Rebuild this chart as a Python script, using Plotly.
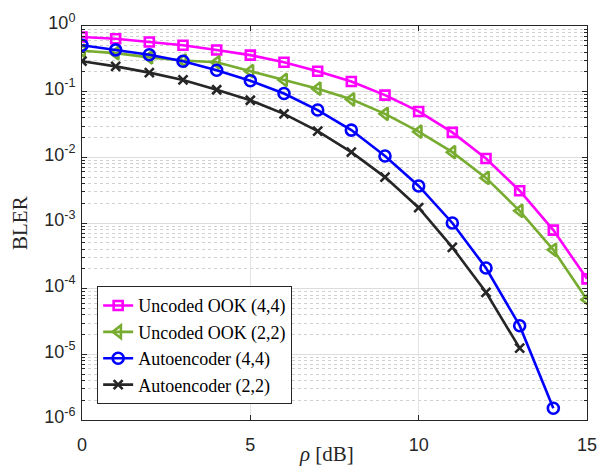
import plotly.graph_objects as go

# SNR axis (dB)
rho_db = list(range(0, 16))

# Block error rates per scheme
bler_ook_44 = [0.68, 0.64, 0.57, 0.51, 0.43, 0.36, 0.28, 0.205, 0.143, 0.0885,
               0.050, 0.024, 0.0096, 0.0031, 7.8e-4, 1.41e-4]
bler_ook_22 = [0.42, 0.386, 0.333, 0.298, 0.28, 0.205, 0.151, 0.111, 0.0764, 0.0459,
               0.0246, 0.012, 0.00486, 0.00153, 3.9e-4, 6.8e-5]
bler_ae_44 = [0.51, 0.433, 0.365, 0.291, 0.212, 0.147, 0.0937, 0.0525, 0.026, 0.0105,
              0.00366, 0.0010, 2.06e-4, 2.73e-5, 1.51e-6]
bler_ae_22 = [0.291, 0.243, 0.195, 0.151, 0.107, 0.074, 0.0459, 0.0251, 0.012, 0.0050,
              0.00171, 4.25e-4, 8.8e-5, 1.24e-5]

series_names = ["Uncoded OOK (4,4)", "Uncoded OOK (2,2)",
                "Autoencoder (4,4)", "Autoencoder (2,2)"]

y_tickvals = [1e-6, 1e-5, 1e-4, 1e-3, 1e-2, 1e-1, 1]
y_ticktext = ["10<sup>-6</sup>", "10<sup>-5</sup>", "10<sup>-4</sup>", "10<sup>-3</sup>",
              "10<sup>-2</sup>", "10<sup>-1</sup>", "10<sup>0</sup>"]
x_tickvals = [0, 5, 10, 15]

styles = [
    dict(color="#FF00FF", symbol="square-open", size=9),
    dict(color="#77AC30", symbol="triangle-left-open", size=11),
    dict(color="#0000FF", symbol="circle-open", size=11),
    dict(color="#262626", symbol="x-thin-open", size=9),
]
data = [bler_ook_44, bler_ook_22, bler_ae_44, bler_ae_22]

fig = go.Figure()
for name, ys, st in zip(series_names, data, styles):
    fig.add_trace(go.Scatter(
        x=rho_db[:len(ys)], y=ys, name=name, mode="lines+markers",
        line=dict(color=st["color"], width=2.6),
        marker=dict(symbol=st["symbol"], size=st["size"], color=st["color"],
                    line=dict(color=st["color"], width=2.6)),
    ))

tick_font = dict(family="Liberation Sans, Arial, sans-serif", size=18, color="#262626")
serif = "Liberation Serif, DejaVu Serif, serif"

fig.update_layout(
    width=608, height=466,
    margin=dict(l=82, r=11, t=12, b=46),
    paper_bgcolor="white", plot_bgcolor="white",
    showlegend=True,
    legend=dict(
        x=0.03, y=0.04, xanchor="left", yanchor="bottom",
        bgcolor="white", bordercolor="#262626", borderwidth=1,
        font=dict(family=serif, size=18, color="#000000"),
        tracegroupgap=0, itemwidth=30,
    ),
    xaxis=dict(
        range=[0, 15], tickvals=x_tickvals, ticks="inside", ticklen=5,
        tickcolor="#262626", showline=True, linecolor="#262626", linewidth=1,
        mirror="ticks", showgrid=True, gridcolor="#e3e3e3", gridwidth=1,
        zeroline=False, tickfont=tick_font, ticklabelstandoff=8,
    ),
    yaxis=dict(
        type="log", range=[-6, 0], tickvals=y_tickvals, ticktext=y_ticktext,
        ticks="inside", ticklen=5, tickcolor="#262626",
        showline=True, linecolor="#262626", linewidth=1, mirror="ticks",
        showgrid=True, gridcolor="#dcdcdc", gridwidth=1, zeroline=False,
        tickfont=tick_font, ticklabelstandoff=2, ticklabelshift=-3,
        ticklabeloverflow="allow",
        minor=dict(dtick="D1", ticks="inside", ticklen=3, tickcolor="#262626",
                   showgrid=True, gridcolor="#d0d0d0", griddash="dot", gridwidth=1),
    ),
    annotations=[
        dict(text="<i>ρ</i> [dB]", xref="paper", yref="paper", x=0.485, y=0,
             xanchor="center", yanchor="middle", yshift=-34, showarrow=False,
             font=dict(family=serif, size=21, color="#262626")),
        dict(text="BLER", xref="paper", yref="paper", x=0, y=0.5,
             xanchor="center", yanchor="middle", xshift=-62, textangle=-90,
             showarrow=False, font=dict(family=serif, size=21, color="#262626")),
    ],
)

fig.write_html("out.html")
